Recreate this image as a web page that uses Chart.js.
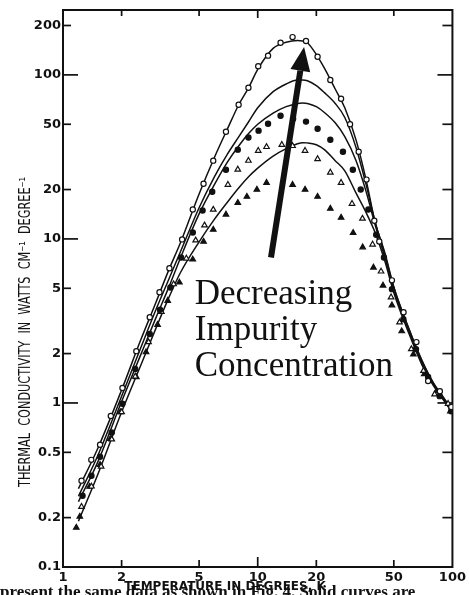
<!DOCTYPE html>
<html>
<head>
<meta charset="utf-8">
<script src="https://cdn.jsdelivr.net/npm/chart.js@4.4.1/dist/chart.umd.min.js"></script>
<style>
  html, body { margin: 0; padding: 0; background: #fff; }
  #wrap { width: 469px; height: 595px; position: relative; }
</style>
</head>
<body>
<div id="wrap"><canvas id="c" width="469" height="595"></canvas></div>
<script>
// Temperature grid (K) for the four solid theoretical curves
const curveT = [1.2, 1.5, 2, 2.5, 3, 3.5, 4, 5, 6, 7, 8, 9, 10, 12, 14, 16, 17, 18, 20, 22,
                25, 28, 32, 36, 40, 45, 50, 60, 70, 80, 90, 100];
const curve1 = [0.30, 0.52, 1.2, 2.4, 4.1, 6.5, 9.4, 18.8, 31.5, 47, 66, 84, 108, 145, 158, 162, 161, 157, 133, 110,
                82, 63, 40, 23, 12.8, 8.2, 5.1, 2.8, 1.8, 1.32, 1.08, 0.9];
const curve2 = [0.27, 0.47, 1.1, 2.15, 3.7, 5.7, 8.3, 15.5, 24, 33, 42, 52, 63, 79, 88, 93, 93, 92, 86, 78,
                67, 55, 36, 21.5, 12.8, 8.0, 5.05, 2.78, 1.78, 1.31, 1.07, 0.89];
const curve3 = [0.25, 0.43, 1.02, 1.95, 3.3, 5.1, 7.6, 14.2, 21.5, 29.5, 37, 44, 50, 58.5, 64, 67, 67.5, 67, 64, 59,
                51, 42, 30, 19.5, 12.3, 7.7, 4.9, 2.72, 1.74, 1.29, 1.05, 0.88];
const curve4 = [0.19, 0.36, 0.88, 1.68, 2.85, 4.4, 6.2, 9.6, 13.2, 16.8, 20.5, 24, 27, 32, 35.5, 38, 38.6, 38.5, 37.5, 35,
                30, 26, 19, 14.5, 11.0, 7.3, 4.7, 2.62, 1.69, 1.27, 1.04, 0.87];

// Measured points: open circles
const openCircleT = [1.245, 1.397, 1.55, 1.76, 2.02, 2.38, 2.79, 3.13, 3.52, 4.09, 4.64, 5.27, 5.91, 6.87, 7.98, 8.96,
                     10.06, 11.3, 13.1, 15.1, 17.7, 20.3, 23.6, 26.8, 29.8, 33, 36.2, 39.7, 42.1, 48.9, 56.1, 65.3, 75, 86.2, 98.6];
const openCircleK = [0.336, 0.45, 0.556, 0.834, 1.234, 2.07, 3.33, 4.73, 6.62, 9.93, 15.1, 21.7, 30.0, 45.0, 65.7, 83.4,
                     113, 131, 157, 170, 161, 129, 93, 71.5, 50, 34, 23, 12.9, 9.66, 5.59, 3.57, 2.35, 1.36, 1.18, 0.946];

// Measured points: filled circles
const filledCircleT = [1.26, 1.4, 1.55, 1.78, 2.02, 2.35, 2.79, 3.15, 3.56, 4.04, 4.64, 5.21, 5.84, 6.87, 7.9, 8.96,
                       10.1, 11.3, 13.1, 15.2, 17.7, 20.3, 23.6, 27.4, 30.8, 33.8, 37, 40.6, 44.5, 48.9, 56, 65, 75, 86, 98.6];
const filledCircleK = [0.272, 0.36, 0.47, 0.66, 0.99, 1.61, 2.63, 3.7, 5.06, 7.7, 10.95, 14.9, 19.4, 26.4, 35, 41.5,
                       45.7, 50.4, 56.3, 54, 51.9, 46.9, 40.2, 34, 26.4, 20, 15.1, 10.6, 7.7, 4.94, 3.24, 2.13, 1.44, 1.10, 0.89];

// Measured points: open triangles
const openTriT = [1.245, 1.4, 1.57, 1.78, 2.0, 2.35, 2.75, 3.2, 3.7, 4.3, 4.8, 5.33, 5.91, 7.03, 7.9, 8.96, 10.06, 11.1,
                  13.3, 15.1, 17.5, 20.3, 23.6, 26.8, 30.5, 34.5, 38.9, 43, 48.4, 53.5, 61.5, 71, 81, 95];
const openTriK = [0.233, 0.31, 0.41, 0.6, 0.88, 1.45, 2.35, 3.6, 5.3, 7.6, 9.8, 12.1, 15.1, 21.4, 26.5, 30, 34.5, 36.4,
                  37.5, 36.9, 34.5, 30.7, 25.4, 22, 16.4, 13.3, 9.25, 6.34, 4.41, 3.1, 2.13, 1.57, 1.13, 0.99];

// Measured points: filled triangles
const filledTriT = [1.17, 1.22, 1.37, 1.55, 1.75, 1.97, 2.38, 2.67, 3.06, 3.45, 3.96, 4.64, 5.27, 5.91, 6.87, 7.9, 8.8,
                    9.9, 11.1, 15.1, 17.5, 20.3, 23.6, 26.8, 30.9, 34.6, 39.3, 44, 48.9, 54.9, 63, 71.7, 83, 97.6];
const filledTriK = [0.174, 0.203, 0.309, 0.42, 0.604, 0.88, 1.44, 2.04, 3.0, 4.2, 5.43, 7.5, 9.64, 11.4, 14.1, 16.6, 18.1,
                    20, 22, 21.4, 20, 18.1, 15.3, 13.5, 10.9, 8.9, 6.7, 5.2, 3.94, 2.74, 1.98, 1.5, 1.18, 0.89];

// Axis ticks
const xTickValues = [1, 2, 5, 10, 20, 50, 100];
const yTickValues = [0.1, 0.2, 0.5, 1, 2, 5, 10, 20, 50, 100, 200];

// Annotation: arrow (tail, tip) and text anchor in data units
const arrowTail = [11.7, 7.7];
const arrowTip = [17.3, 148];
const noteAnchor = [4.75, 4.0];
const noteLines = ['Decreasing', 'Impurity', 'Concentration'];

const yTitle = 'THERMAL  CONDUCTIVITY  IN  WATTS  CM\u207B\u00B9  DEGREE\u207B\u00B9';
const xTitle = 'TEMPERATURE IN DEGREES, K';
const captionLine = 'present the same data as shown in Fig. 4. Solid curves are';

const INK = '#111';
const zip = (xs, ys) => xs.map((v, i) => ({ x: v, y: ys[i] }));
const isDecade = v => Math.abs(Math.log10(v) - Math.round(Math.log10(v))) < 1e-9;

function curveSet(values) {
  return {
    type: 'line', data: zip(curveT, values), showLine: true,
    borderColor: INK, borderWidth: 1.5, pointRadius: 0,
    cubicInterpolationMode: 'monotone', fill: false, order: 5
  };
}
function markerSet(xs, ys, style, filled) {
  return {
    type: 'scatter', data: zip(xs, ys), showLine: false,
    pointStyle: style, pointRadius: style === 'triangle' ? 3.2 : 2.6,
    pointBorderWidth: 1.2, pointBorderColor: INK,
    pointBackgroundColor: filled ? INK : '#fff', order: 1
  };
}

const frameTicks = {
  id: 'frameTicks',
  beforeDatasetsDraw(chart) {
    const { ctx, chartArea: a, scales: { x, y } } = chart;
    ctx.save();
    ctx.strokeStyle = INK;
    ctx.lineWidth = 2;
    ctx.strokeRect(a.left, a.top, a.right - a.left, a.bottom - a.top);
    ctx.lineWidth = 1.7;
    const seg = (x1, y1, x2, y2) => { ctx.beginPath(); ctx.moveTo(x1, y1); ctx.lineTo(x2, y2); ctx.stroke(); };
    yTickValues.forEach(v => {
      const py = y.getPixelForValue(v);
      if (py <= a.top + 1 || py >= a.bottom - 1) return;
      const d = isDecade(v);
      seg(a.left, py, a.left + (d ? 15 : 8), py);
      seg(a.right, py, a.right - (d ? 15 : 10), py);
    });
    xTickValues.forEach(v => {
      const px = x.getPixelForValue(v);
      if (px <= a.left + 1 || px >= a.right - 1) return;
      const d = isDecade(v);
      seg(px, a.bottom, px, a.bottom - (d ? 10 : 7));
      seg(px, a.top, px, a.top + (d ? 8 : 6));
    });
    ctx.restore();
  }
};

const notes = {
  id: 'notes',
  afterDatasetsDraw(chart) {
    const { ctx, scales: { x, y } } = chart;
    ctx.save();
    // arrow
    const tx = x.getPixelForValue(arrowTail[0]), ty = y.getPixelForValue(arrowTail[1]);
    const hx = x.getPixelForValue(arrowTip[0]), hy = y.getPixelForValue(arrowTip[1]);
    const ang = Math.atan2(hy - ty, hx - tx);
    const headLen = 24, headHalf = 10;
    const bx = hx - headLen * Math.cos(ang), by = hy - headLen * Math.sin(ang);
    ctx.strokeStyle = INK; ctx.fillStyle = INK;
    ctx.lineWidth = 6; ctx.lineCap = 'butt';
    ctx.beginPath(); ctx.moveTo(tx, ty); ctx.lineTo(bx, by); ctx.stroke();
    ctx.beginPath();
    ctx.moveTo(hx, hy);
    ctx.lineTo(bx + headHalf * Math.sin(ang), by - headHalf * Math.cos(ang));
    ctx.lineTo(bx - headHalf * Math.sin(ang), by + headHalf * Math.cos(ang));
    ctx.closePath(); ctx.fill();
    // label
    const lx = x.getPixelForValue(noteAnchor[0]), ly = y.getPixelForValue(noteAnchor[1]);
    ctx.font = '35px "Liberation Serif", "Times New Roman", serif';
    ctx.textAlign = 'left'; ctx.textBaseline = 'alphabetic';
    noteLines.forEach((t, i) => ctx.fillText(t, lx, ly + i * 36));
    ctx.restore();
  },
  afterDraw(chart) {
    const { ctx } = chart;
    ctx.save();
    ctx.fillStyle = INK;
    // vertical axis title
    ctx.translate(26, 332);
    ctx.rotate(-Math.PI / 2);
    ctx.font = '15px "DejaVu Sans", sans-serif';
    ctx.textAlign = 'center'; ctx.textBaseline = 'middle';
    ctx.fillText(yTitle, 0, 0, 310);
    ctx.restore();
    ctx.save();
    ctx.fillStyle = INK;
    // horizontal axis title
    ctx.font = 'bold 12px "DejaVu Sans", sans-serif';
    ctx.textAlign = 'center'; ctx.textBaseline = 'alphabetic';
    ctx.fillText(xTitle, 225, 590, 235);
    // running text of the page, cut by the lower edge
    ctx.font = 'bold 17px "Liberation Serif", serif';
    ctx.textAlign = 'left';
    ctx.fillText(captionLine, 0, 597, 469);
    ctx.restore();
  }
};

new Chart(document.getElementById('c'), {
  data: {
    datasets: [
      markerSet(openCircleT, openCircleK, 'circle', false),
      markerSet(filledCircleT, filledCircleK, 'circle', true),
      markerSet(openTriT, openTriK, 'triangle', false),
      markerSet(filledTriT, filledTriK, 'triangle', true),
      curveSet(curve1), curveSet(curve2), curveSet(curve3), curveSet(curve4)
    ]
  },
  options: {
    responsive: false,
    animation: false,
    devicePixelRatio: 1,
    layout: { autoPadding: false, padding: { left: 0, top: 10, right: 7, bottom: 0 } },
    plugins: { legend: { display: false }, tooltip: { enabled: false } },
    scales: {
      x: {
        type: 'logarithmic', position: 'bottom', min: 1, max: 100,
        grid: { display: false, drawTicks: false }, border: { display: false },
        afterBuildTicks: s => { s.ticks = xTickValues.map(v => ({ value: v })); },
        afterFit: s => { s.height = 28; },
        ticks: {
          autoSkip: false, maxRotation: 0, padding: 3, color: INK,
          font: { family: '"DejaVu Sans", sans-serif', size: 13, weight: 'bold' },
          callback: v => String(v)
        }
      },
      y: {
        type: 'logarithmic', position: 'left', min: 0.1, max: 248.6,
        grid: { display: false, drawTicks: false }, border: { display: false },
        afterBuildTicks: s => { s.ticks = yTickValues.map(v => ({ value: v })); },
        afterFit: s => { s.width = 63; },
        ticks: {
          autoSkip: false, padding: 2, color: INK,
          font: { family: '"DejaVu Sans", sans-serif', size: 13, weight: 'bold' },
          callback: v => String(v)
        }
      }
    }
  },
  plugins: [frameTicks, notes]
});
</script>
</body>
</html>
